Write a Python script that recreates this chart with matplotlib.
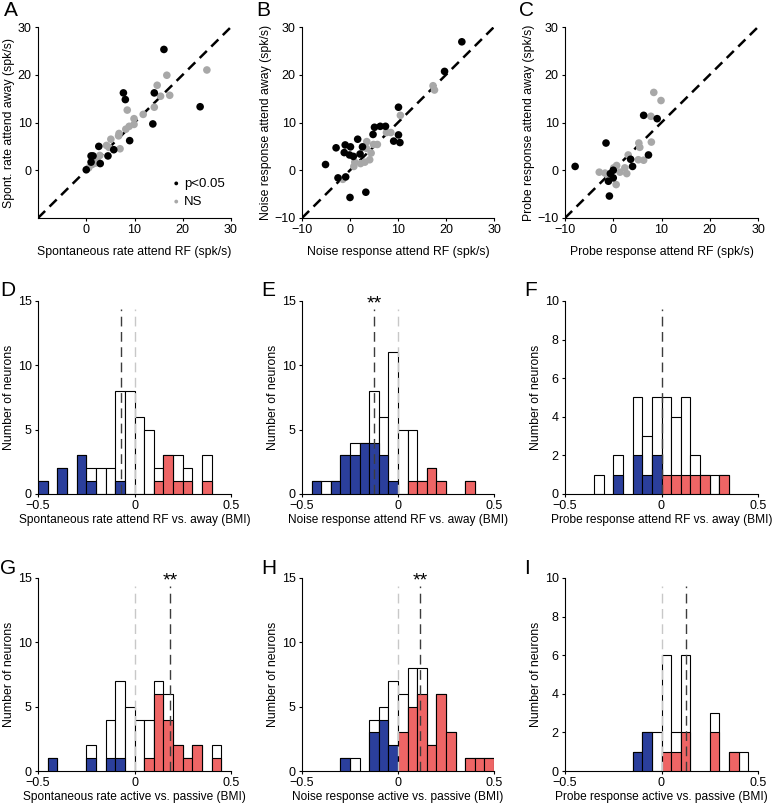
import numpy as np
import matplotlib
matplotlib.use("Agg")
import matplotlib.pyplot as plt

plt.rcParams['font.family'] = ['Liberation Sans', 'DejaVu Sans']
plt.rcParams['font.size'] = 8.8

# ---- scatter data (spk/s) ----
a_sig_x = [16.1, 7.7, 8.1, 14.1, 13.8, 23.6, 9.0, 2.6, 5.7, 4.5, 1.0, 1.4, 1.0, 2.9, 0.0]
a_sig_y = [25.3, 16.2, 14.8, 16.2, 9.7, 13.3, 6.2, 5.0, 4.3, 3.0, 3.0, 3.0, 1.7, 1.4, 0.1]
a_ns_x = [25.0, 16.7, 14.7, 15.4, 17.3, 14.1, 8.5, 11.8, 9.9, 9.9, 8.9, 8.2, 5.1, 6.8,
          6.7, 4.2, 4.7, 7.0, 2.8, 2.2, 1.2, 0.5, 1.9]
a_ns_y = [21.0, 19.9, 17.8, 15.5, 15.7, 13.2, 12.6, 11.7, 10.8, 9.6, 9.2, 8.6, 6.5, 7.7,
          7.2, 5.2, 4.8, 4.5, 3.1, 2.2, 1.2, 0.5, 1.5]

b_sig_x = [23.3, 19.7, 10.1, 10.1, 10.4, 9.1, 7.4, 6.3, 5.1, 4.8, 1.6, 2.6, 2.1, -2.9,
           -1.0, 0.1, -1.2, -0.1, 0.7, -5.1, -2.5, -0.9, 3.3, 0.0]
b_sig_y = [26.9, 20.7, 13.2, 7.4, 5.8, 6.1, 9.2, 9.2, 9.0, 7.5, 6.5, 4.9, 3.4, 4.7,
           5.3, 4.9, 3.7, 3.2, 2.9, 1.2, -1.6, -1.4, -4.6, -5.7]
b_ns_x = [17.3, 17.6, 10.5, 8.5, 7.6, 5.7, 4.9, 3.5, 3.4, 4.4, 4.1, 3.1, 2.2, 1.0, 0.8, -1.5]
b_ns_y = [17.7, 16.8, 11.5, 7.9, 7.9, 5.4, 5.4, 6.0, 4.6, 3.6, 2.2, 1.7, 1.4, 1.7, 0.8, -1.9]

c_sig_x = [-7.9, -1.5, 6.3, 9.1, 7.3, 3.6, 4.0, 0.0, -0.6, 0.0, -1.0, -0.8]
c_sig_y = [0.8, 5.7, 11.5, 10.8, 3.2, 2.3, 0.8, 0.0, -0.7, -1.6, -2.3, -5.4]
c_ns_x = [8.4, 9.9, 7.8, 7.9, 5.3, 5.5, 3.1, 5.2, 6.3, 0.7, 2.4, 1.4, 2.8, -2.9, -1.7,
          0.6, -1.0, 0.1]
c_ns_y = [16.3, 14.6, 11.3, 5.9, 5.7, 4.8, 3.2, 2.2, 2.1, 1.0, 0.5, -0.4, -0.7, -0.4,
          -0.6, -3.0, -1.2, 0.5]

# ---- histogram data: bins of 0.05 from -0.5 to 0.5 ----
bin_left = np.round(np.arange(-0.5, 0.5, 0.05), 2)
#             -.5 -.45 -.4 -.35 -.3 -.25 -.2 -.15 -.1 -.05  0  .05 .1 .15 .2 .25 .3 .35 .4 .45
d_total = [1, 0, 2, 0, 3, 2, 2, 2, 8, 8, 6, 5, 2, 3, 3, 2, 0, 3, 0, 0]
d_blue  = [1, 0, 2, 0, 3, 1, 0, 0, 1, 0, 0, 0, 0, 0, 0, 0, 0, 0, 0, 0]
d_red   = [0, 0, 0, 0, 0, 0, 0, 0, 0, 0, 0, 0, 1, 3, 1, 1, 0, 1, 0, 0]

e_total = [0, 1, 1, 1, 3, 4, 4, 8, 6, 11, 5, 5, 1, 2, 1, 0, 0, 1, 0, 0]
e_blue  = [0, 1, 0, 1, 3, 3, 4, 4, 3, 1, 0, 0, 0, 0, 0, 0, 0, 0, 0, 0]
e_red   = [0, 0, 0, 0, 0, 0, 0, 0, 0, 0, 0, 1, 1, 2, 1, 0, 0, 1, 0, 0]

f_total = [0, 0, 0, 1, 0, 2, 0, 5, 3, 5, 5, 4, 5, 2, 1, 1, 1, 0, 0, 0]
f_blue  = [0, 0, 0, 0, 0, 1, 0, 2, 1, 2, 0, 0, 0, 0, 0, 0, 0, 0, 0, 0]
f_red   = [0, 0, 0, 0, 0, 0, 0, 0, 0, 0, 1, 1, 1, 1, 1, 0, 1, 0, 0, 0]

g_total = [0, 1, 0, 0, 0, 2, 0, 4, 7, 5, 4, 4, 7, 6, 2, 1, 2, 0, 2, 0]
g_blue  = [0, 1, 0, 0, 0, 1, 0, 1, 1, 0, 0, 0, 0, 0, 0, 0, 0, 0, 0, 0]
g_red   = [0, 0, 0, 0, 0, 0, 0, 0, 0, 0, 0, 1, 6, 4, 2, 1, 2, 0, 1, 0]

h_total = [0, 0, 0, 0, 1, 1, 0, 4, 5, 7, 6, 8, 8, 2, 6, 3, 0, 1, 1, 1]
h_blue  = [0, 0, 0, 0, 1, 0, 0, 3, 4, 2, 0, 0, 0, 0, 0, 0, 0, 0, 0, 0]
h_red   = [0, 0, 0, 0, 0, 0, 0, 0, 0, 0, 3, 5, 6, 2, 6, 3, 0, 1, 1, 1]

i_total = [0, 0, 0, 0, 0, 0, 0, 1, 2, 2, 6, 2, 6, 0, 0, 3, 0, 1, 1, 0]
i_blue  = [0, 0, 0, 0, 0, 0, 0, 1, 2, 0, 0, 0, 0, 0, 0, 0, 0, 0, 0, 0]
i_red   = [0, 0, 0, 0, 0, 0, 0, 0, 0, 0, 1, 1, 2, 0, 0, 2, 0, 1, 0, 0]

# population mean BMI (dark dashed line)
means = {'D': -0.072, 'E': -0.126, 'F': 0.0, 'G': 0.186, 'H': 0.116, 'I': 0.129}
stars = {'E', 'G', 'H'}

BLUE = '#2b3f9c'
RED = '#ee6565'
GRAY = '#a8a8a8'

W, H = 776, 810
fig = plt.figure(figsize=(W / 100, H / 100), dpi=100)


def add_ax(x0, y0, x1, y1):
    return fig.add_axes([x0 / W, 1 - y1 / H, (x1 - x0) / W, (y1 - y0) / H])


def style(ax):
    for s in ['top', 'right']:
        ax.spines[s].set_visible(False)
    for s in ['left', 'bottom']:
        ax.spines[s].set_linewidth(0.8)
    ax.tick_params(direction='out', length=2.5, width=0.8, pad=2, labelsize=9)


cols = [(38, 231), (302, 494), (565, 758)]

# ---- row 1: scatter ----
scatter_sets = [
    ('A', a_sig_x, a_sig_y, a_ns_x, a_ns_y,
     'Spontaneous rate attend RF (spk/s)', 'Spont. rate attend away (spk/s)'),
    ('B', b_sig_x, b_sig_y, b_ns_x, b_ns_y,
     'Noise response attend RF (spk/s)', 'Noise response attend away (spk/s)'),
    ('C', c_sig_x, c_sig_y, c_ns_x, c_ns_y,
     'Probe response attend RF (spk/s)', 'Probe response attend away (spk/s)'),
]
for k, (lab, sx, sy, nx, ny, xl, yl) in enumerate(scatter_sets):
    x0, x1 = cols[k]
    ax = add_ax(x0, 27, x1, 218)
    style(ax)
    ax.plot([-10, 30], [-10, 30], color='k', lw=1.8, dashes=(4, 2.5), zorder=1)
    ax.scatter(nx, ny, s=30, color=GRAY, edgecolors='none', zorder=2, label='NS')
    ax.scatter(sx, sy, s=30, color='k', edgecolors='none', zorder=3, label='p<0.05')
    ax.set_xlim(-10, 30)
    ax.set_ylim(-10, 30)
    ticks = [0, 10, 20, 30] if lab == 'A' else [-10, 0, 10, 20, 30]
    ax.set_xticks(ticks)
    ax.set_yticks(ticks)
    ax.set_xlabel(xl, labelpad=7)
    ax.set_ylabel(yl, labelpad=2)
    if lab == 'A':
        h, l = ax.get_legend_handles_labels()
        ax.legend(h[::-1], l[::-1], loc='lower right', frameon=False, markerscale=0.5,
                  handletextpad=0.0, handlelength=1.2, labelspacing=0.45, fontsize=9.5,
                  bbox_to_anchor=(1.03, -0.01))
    fig.text((x0 - 34 if k == 0 else x0 - 46) / W, 1 - 11 / H, lab, fontsize=15,
             va='center', ha='left')

# ---- rows 2 & 3: histograms ----
hist_sets = [
    ('D', d_total, d_blue, d_red, 15, 'Spontaneous rate attend RF vs. away (BMI)'),
    ('E', e_total, e_blue, e_red, 15, 'Noise response attend RF vs. away (BMI)'),
    ('F', f_total, f_blue, f_red, 10, 'Probe response attend RF vs. away (BMI)'),
    ('G', g_total, g_blue, g_red, 15, 'Spontaneous rate active vs. passive (BMI)'),
    ('H', h_total, h_blue, h_red, 15, 'Noise response active vs. passive (BMI)'),
    ('I', i_total, i_blue, i_red, 10, 'Probe response active vs. passive (BMI)'),
]
rows = [(301, 494), (578, 771)]
letter_y = [291, 568]
for n, (lab, tot, blu, red, ymax, xl) in enumerate(hist_sets):
    r, k = divmod(n, 3)
    x0, x1 = cols[k]
    y0, y1 = rows[r]
    ax = add_ax(x0, y0, x1, y1)
    style(ax)
    tot = np.array(tot)
    blu = np.array(blu)
    red = np.array(red)
    m = tot > 0
    ax.bar(bin_left[m], tot[m], width=0.05, align='edge', color='white',
           edgecolor='k', linewidth=0.8, zorder=2)
    m = blu > 0
    ax.bar(bin_left[m], blu[m], width=0.05, align='edge', color=BLUE,
           edgecolor='k', linewidth=0.8, zorder=3)
    m = red > 0
    ax.bar(bin_left[m], red[m], width=0.05, align='edge', color=RED,
           edgecolor='k', linewidth=0.8, zorder=3)
    top = ymax * 0.96
    if lab != 'F':
        ax.plot([0, 0], [0, top], color='#c8c8c8', lw=1.0, dashes=(7, 4), zorder=4)
    mu = means[lab]
    ax.plot([mu, mu], [0, top], color='#3c3c3c', lw=1.0, dashes=(7, 4), zorder=5)
    if lab in stars:
        ax.text(mu, ymax * 0.985, '**', ha='center', va='center', fontsize=14,
                zorder=6)
    ax.set_xlim(-0.5, 0.5)
    ax.set_ylim(0, ymax)
    ax.set_xticks([-0.5, 0, 0.5])
    ax.set_xticklabels(['\u22120.5', '0', '0.5'])
    if ymax == 15:
        ax.set_yticks([0, 5, 10, 15])
    else:
        ax.set_yticks([0, 2, 4, 6, 8, 10])
    ax.set_xlabel(xl, labelpad=1, fontsize=8.6)
    ax.set_ylabel('Number of neurons', labelpad=2)
    fig.text((x0 - 38 if k == 0 else x0 - 41) / W, 1 - letter_y[r] / H, lab,
             fontsize=15, va='center', ha='left')

fig.savefig('out.png', dpi=100)
